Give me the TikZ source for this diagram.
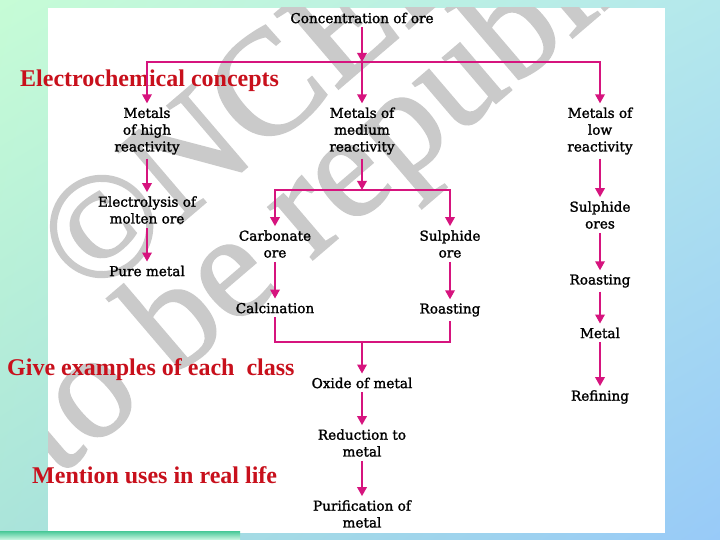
\documentclass[tikz,border=0pt]{standalone}
\usepackage{fontspec}
\setmainfont{DejaVu Serif}
\newfontfamily\flowfont[FakeBold=1.6]{DejaVu Serif}
\newfontfamily\redfont{Liberation Serif}
\newfontfamily\wmfont[FakeBold=1.3]{Liberation Serif}
\usetikzlibrary{arrows.meta,shadings}
\definecolor{mag}{RGB}{214,20,126}
\definecolor{redt}{RGB}{200,16,28}
\definecolor{wmgray}{RGB}{202,202,202}
\definecolor{bgul}{RGB}{198,252,214}
\definecolor{bgur}{RGB}{180,232,236}
\definecolor{bgll}{RGB}{170,228,218}
\definecolor{bglr}{RGB}{152,202,248}
\definecolor{stript}{RGB}{70,200,150}
\definecolor{stripb}{RGB}{210,248,230}
\tikzset{
  lbl/.style={font=\flowfont\fontsize{13.6}{16.8}\selectfont, align=center, inner xsep=2pt, inner ysep=4pt, text=black},
  conn/.style={draw=mag, line width=1.8pt},
  arr/.style={conn, -{Triangle[length=9pt,width=9.5pt]}},
  redtxt/.style={font=\redfont\bfseries\fontsize{24}{28}\selectfont, text=redt, inner sep=0pt},
  wmark/.style={font=\wmfont\fontsize{150}{150}\selectfont, text=wmgray, inner sep=0pt, rotate=40.5}
}
\begin{document}
\begin{tikzpicture}[x=1pt,y=-1pt]
\useasboundingbox (0,0) rectangle (720,540);
% background
\shade[upper left=bgul, upper right=bgur, lower left=bgll, lower right=bglr]
  (0,0) rectangle (720,540);
% white panel
\fill[white] (48,8) rectangle (665,533);
\shade[top color=stript, bottom color=stripb] (0,531) rectangle (240,540);
% watermark
\begin{scope}
\clip (48,8) rectangle (665,533);
\node[wmark, anchor=base west] (wm1) at (90,301) {©NCERT};
\node[wmark, anchor=base west] (wm2) at (57,478) {to be republished};
\end{scope}
% red notes
\node[redtxt, anchor=base west] (n1) at (20,87) {Electrochemical concepts};
\node[redtxt, anchor=base west] (n2) at (7,375) {Give examples of each~ class};
\node[redtxt, anchor=base west] (n3) at (32,483) {Mention uses in real life};
% nodes
\node[lbl] (conc) at (362,18) {Concentration of ore};
\node[lbl] (high) at (147,131) {Metals\\of high\\reactivity};
\node[lbl] (med) at (362,131) {Metals of\\medium\\reactivity};
\node[lbl] (low) at (600,131) {Metals of\\low\\reactivity};
\node[lbl] (elec) at (147,210) {Electrolysis of\\molten ore};
\node[lbl] (pure) at (147,271) {Pure metal};
\node[lbl] (carb) at (275,244) {Carbonate\\ore};
\node[lbl] (sulph) at (450,244) {Sulphide\\ore};
\node[lbl] (calc) at (275,308) {Calcination};
\node[lbl] (roast1) at (450,310) {Roasting};
\node[lbl] (oxide) at (362,383) {Oxide of metal};
\node[lbl] (redn) at (362,443) {Reduction to\\metal};
\node[lbl] (purif) at (362,514) {Purification of\\metal};
\node[lbl] (sulphs) at (600,215) {Sulphide\\ores};
\node[lbl] (roast2) at (600,281) {Roasting};
\node[lbl] (metal) at (600,333) {Metal};
\node[lbl] (refin) at (600,397) {Refining};
% connector junctions
\coordinate (b1) at (362,62);
\coordinate (b1L) at (147,62);
\coordinate (b1R) at (600,62);
\coordinate (b2) at (362,190);
\coordinate (b2L) at (275,190);
\coordinate (b2R) at (450,190);
\coordinate (b3) at (362,342);
% connectors
\draw[conn, line cap=rect] (b1L) -- (b1R);
\draw[arr] (conc) -- (b1);
\draw[arr] (b1L) -- (high);
\draw[arr] (b1) -- (med);
\draw[arr] (b1R) -- (low);
\draw[arr] (high) -- (elec);
\draw[arr] (elec) -- (pure);
\draw[conn, line cap=rect] (b2L) -- (b2R);
\draw[arr] (med) -- (b2);
\draw[arr] (b2L) -- (carb);
\draw[arr] (b2R) -- (sulph);
\draw[arr] (carb) -- (calc);
\draw[arr] (sulph) -- (roast1);
\draw[conn] (calc) |- (b3) -| (roast1);
\draw[arr] (b3) -- (oxide);
\draw[arr] (oxide) -- (redn);
\draw[arr] (redn) -- (purif);
\draw[arr] (low) -- (sulphs);
\draw[arr] (sulphs) -- (roast2);
\draw[arr] (roast2) -- (metal);
\draw[arr] (metal) -- (refin);
\end{tikzpicture}
\end{document}
